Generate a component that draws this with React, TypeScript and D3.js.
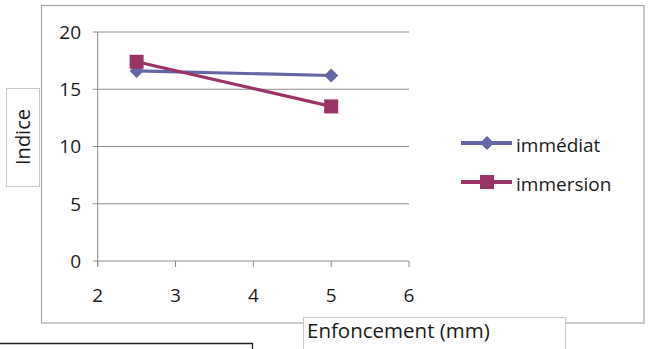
import React from "react";
import * as d3 from "d3";

const xValues = [2.5, 5];
const immediat = [16.6, 16.2];
const immersion = [17.4, 13.5];
const xTicks = [2, 3, 4, 5, 6];
const yTicks = [0, 5, 10, 15, 20];
const seriesNames = ["immédiat", "immersion"];
const seriesColors = ["#6566A6", "#9B3366"];

export default function App() {
  const W = 649, H = 349;
  const x = d3.scaleLinear().domain([2, 6]).range([97.7, 409]);
  const y = d3.scaleLinear().domain([0, 20]).range([261, 32]);
  const line = d3.line<[number, number]>().x(d => x(d[0])).y(d => y(d[1]));
  const series = [immediat, immersion];
  const font = "'Open Sans', 'DejaVu Sans', sans-serif";
  const tc = "#1a1a1a";
  const diamond = (cx: number, cy: number, r: number) =>
    `M${cx},${cy - r}L${cx + r},${cy}L${cx},${cy + r}L${cx - r},${cy}Z`;

  return (
    <svg width={W} height={H} style={{ position: "absolute", left: 0, top: 0, background: "#fff" }}>
      <rect x={0} y={0} width={W} height={H} fill="#fff" />
      <rect x={41.5} y={5.5} width={602.5} height={317.5} fill="#fff" stroke="#A6A6A6" strokeWidth={1.2} />
      {yTicks.map(t => (
        <g key={"y" + t}>
          <line x1={x(2) - 5} x2={x(6)} y1={y(t)} y2={y(t)} stroke="#8C8C8C" strokeWidth={1} />
          <text x={81} y={y(t)} dy="0.36em" textAnchor="end" fontFamily={font} fontSize={19} fill={tc}>{t}</text>
        </g>
      ))}
      <line x1={x(2)} x2={x(2)} y1={y(20)} y2={y(0) + 5} stroke="#8C8C8C" strokeWidth={1} />
      {xTicks.map(t => (
        <g key={"x" + t}>
          <line x1={x(t)} x2={x(t)} y1={y(0)} y2={y(0) + 6} stroke="#8C8C8C" strokeWidth={1} />
          <text x={x(t)} y={302} textAnchor="middle" fontFamily={font} fontSize={19} fill={tc}>{t}</text>
        </g>
      ))}
      {series.map((s, i) => (
        <path key={"l" + i} d={line(xValues.map((v, j) => [v, s[j]] as [number, number])) || ""}
          fill="none" stroke={seriesColors[i]} strokeWidth={3.2} />
      ))}
      {immediat.map((v, j) => (
        <path key={"d" + j} d={diamond(x(xValues[j]), y(v), 7)} fill={seriesColors[0]} />
      ))}
      {immersion.map((v, j) => (
        <rect key={"s" + j} x={x(xValues[j]) - 7} y={y(v) - 7} width={14} height={14} fill={seriesColors[1]} />
      ))}
      {/* y axis title */}
      <rect x={6.5} y={88.5} width={33} height={98} fill="#fff" stroke="#C8C8C8" strokeWidth={1} />
      <text transform={`translate(23,137) rotate(-90)`} textAnchor="middle" dy="0.36em" fontFamily={font} fontSize={20} fill={tc}>Indice</text>
      {/* x axis title */}
      <rect x={303.5} y={317.5} width={262} height={40} fill="#fff" stroke="#C8C8C8" strokeWidth={1} />
      <text x={307} y={338} fontFamily={font} fontSize={20.5} fill={tc}>Enfoncement (mm)</text>
      {/* legend */}
      {seriesNames.map((n, i) => {
        const ly = i === 0 ? 143 : 182;
        return (
          <g key={"lg" + i}>
            <line x1={461} x2={512} y1={ly} y2={ly} stroke={seriesColors[i]} strokeWidth={4} />
            {i === 0
              ? <path d={diamond(487, ly, 7)} fill={seriesColors[0]} />
              : <rect x={480} y={ly - 7} width={14} height={14} fill={seriesColors[1]} />}
            <text x={516} y={ly + 2} dy="0.36em" fontFamily={font} fontSize={19} fill={tc}>{n}</text>
          </g>
        );
      })}
      {/* artifact line below */}
      <path d="M0,343.5H252.5V349" fill="none" stroke="#222" strokeWidth={1.3} />
    </svg>
  );
}
